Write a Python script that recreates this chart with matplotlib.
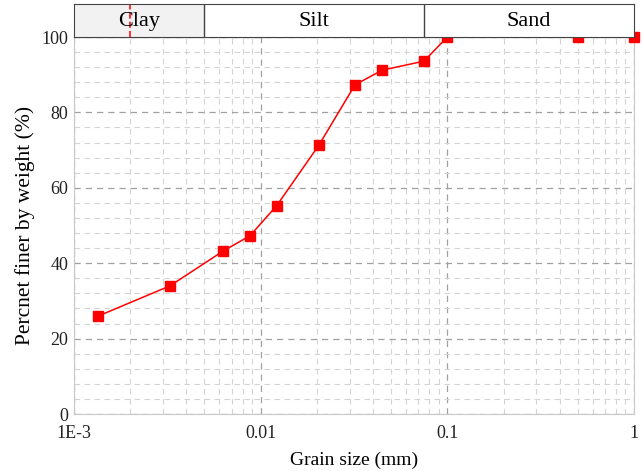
import numpy as np
import matplotlib.pyplot as plt
from matplotlib.ticker import LogLocator, NullFormatter

plt.rcParams['font.family'] = ['Liberation Serif', 'DejaVu Serif']

# grain size distribution (mm, % finer)
grain_size = [0.00135, 0.00327, 0.00628, 0.00877, 0.0122, 0.0205, 0.032, 0.0447, 0.075, 0.1, 0.5, 1.0]
percent_finer = [26.0, 34.0, 43.2, 47.3, 55.3, 71.3, 87.3, 91.2, 93.6, 100.0, 100.0, 100.0]

# soil class boundaries (mm)
class_names = ['Clay', 'Silt', 'Sand']
class_edges = [0.001, 0.005, 0.075, 1.0]
clay_marker = 0.002

x_ticks = [0.001, 0.01, 0.1, 1]
x_labels = ['1E-3', '0.01', '0.1', '1']
y_ticks = [0, 20, 40, 60, 80, 100]

fig = plt.figure(figsize=(6.43, 4.71), dpi=100)
ax = fig.add_axes([0.1151, 0.121, 0.8709, 0.8004])
hx = fig.add_axes([0.1151, 0.9214, 0.8709, 0.0701])

ax.set_xscale('log')
ax.set_xlim(0.001, 1)
ax.set_ylim(0, 100)

ax.plot(grain_size, percent_finer, color='#ff0000', lw=1.1, marker='s', ms=7,
        mfc='#ff0000', mec='#ff0000', clip_on=False, zorder=5)

ax.set_xticks(x_ticks)
ax.set_xticklabels(x_labels)
ax.set_yticks(y_ticks)
ax.set_yticks(np.arange(0, 101, 4), minor=True)
ax.xaxis.set_minor_locator(LogLocator(base=10, subs=np.arange(2, 10)))
ax.xaxis.set_minor_formatter(NullFormatter())
ax.tick_params(which='both', length=0, labelsize=13, colors='#222222')
ax.tick_params(axis='x', pad=8)
ax.tick_params(axis='y', pad=4)

ax.grid(which='major', color='#a0a0a0', ls=(0, (5, 4)), lw=0.9)
ax.grid(which='minor', color='#d4d4d4', ls=(0, (5, 4)), lw=0.8)
ax.set_axisbelow(True)

for side in ['left', 'right', 'bottom']:
    ax.spines[side].set_color('#c8c8c8')
ax.spines['top'].set_color('#444444')

ax.set_xlabel('Grain size (mm)', fontsize=14, labelpad=7)
ax.set_ylabel('Percnet finer by weight (%)', fontsize=15.5, labelpad=5)

# soil class header
hx.set_xscale('log')
hx.set_xlim(0.001, 1)
hx.set_ylim(0, 1)
hx.axvspan(class_edges[0], class_edges[1], color='#f2f2f2', zorder=0)
for e in class_edges[1:-1]:
    hx.axvline(e, color='#444444', lw=1.0)
for name, lo, hi in zip(class_names, class_edges[:-1], class_edges[1:]):
    hx.text(np.sqrt(lo * hi), 0.48, name, ha='center', va='center', fontsize=16)
hx.axvline(clay_marker, color='#ff0000', ls=(0, (4, 2)), lw=1.1)
hx.xaxis.set_major_locator(plt.NullLocator())
hx.xaxis.set_minor_locator(plt.NullLocator())
hx.set_yticks([])
for s in hx.spines.values():
    s.set_color('#444444')

fig.savefig('out.png', dpi=100)
